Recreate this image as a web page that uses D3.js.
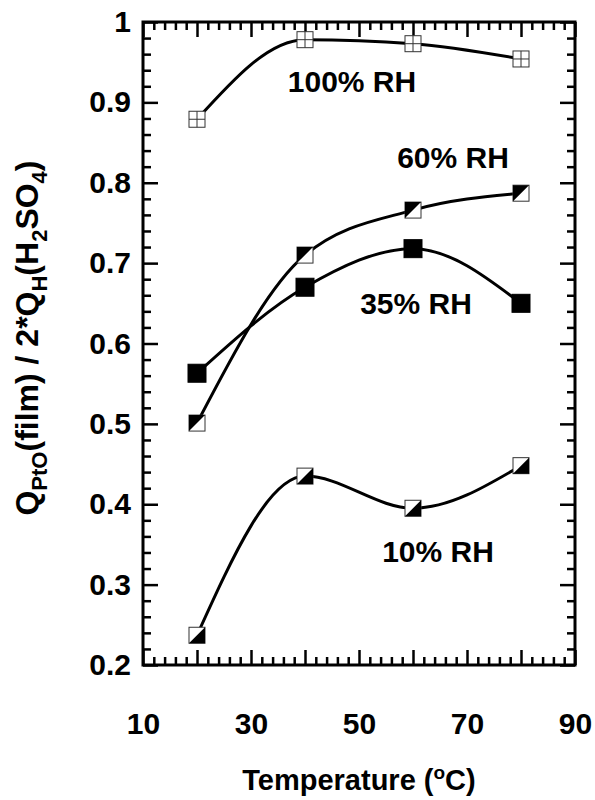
<!DOCTYPE html>
<html>
<head>
<meta charset="utf-8">
<script src="https://cdn.jsdelivr.net/npm/d3@7"></script>
<style>
	body { margin: 0; background: #fff; }
	text { font-family: "Liberation Sans", Arial, Helvetica, sans-serif; font-weight: bold; fill: #000; }
</style>
</head>
<body>
<div id="chart"></div>
<script>
// values
var temps = [20, 40, 60, 80];
var rh100 = [0.879, 0.978, 0.973, 0.954];
var rh60 = [0.501, 0.710, 0.766, 0.787];
var rh35 = [0.563, 0.670, 0.718, 0.650];
var rh10 = [0.237, 0.435, 0.395, 0.448];
var seriesNames = ["100% RH", "60% RH", "35% RH", "10% RH"];
var xTickLabels = [10, 30, 50, 70, 90];
var yTickLabels = [0.2, 0.3, 0.4, 0.5, 0.6, 0.7, 0.8, 0.9, 1];

var width = 595, height = 800;
var margin = {top: 22, right: 20, bottom: 135, left: 143};
var w = width - margin.left - margin.right,
	h = height - margin.top - margin.bottom;

var svg = d3.select("#chart")
	.append("svg")
		.attr("width", width)
		.attr("height", height)
	.append("g")
		.attr("transform", "translate(" + margin.left + "," + margin.top + ")");

var x = d3.scaleLinear().domain([10, 90]).range([0, w]);
var y = d3.scaleLinear().domain([0.2, 1]).range([h, 0]);

var xMajor = d3.range(10, 91, 10);
var xMinor = d3.range(10, 91, 2).filter(function(d) { return d % 10 !== 0; });
var yMajor = d3.range(2, 11, 1).map(function(d) { return d / 10; });
var yMinor = d3.range(10, 51, 1).filter(function(d) { return d % 5 !== 0; }).map(function(d) { return d / 50; });

function styleAxis(g) {
	g.select(".domain").remove();
	g.selectAll(".tick line").attr("stroke", "#000").attr("stroke-width", 2.5);
	g.selectAll(".tick text").style("font-size", "30px");
}

// bottom, with labels on every other major tick
svg.append("g")
	.attr("transform", "translate(0," + h + ")")
	.call(d3.axisBottom(x).tickValues(xMajor).tickSizeInner(-15).tickSizeOuter(0).tickPadding(48)
		.tickFormat(function(d) { return xTickLabels.indexOf(d) >= 0 ? d : ""; }))
	.call(styleAxis);
svg.append("g")
	.attr("transform", "translate(0," + h + ")")
	.call(d3.axisBottom(x).tickValues(xMinor).tickSizeInner(-8).tickSizeOuter(0).tickFormat(""))
	.call(styleAxis);
// top
svg.append("g")
	.call(d3.axisTop(x).tickValues(xMajor).tickSizeInner(-15).tickSizeOuter(0).tickFormat(""))
	.call(styleAxis);
svg.append("g")
	.call(d3.axisTop(x).tickValues(xMinor).tickSizeInner(-8).tickSizeOuter(0).tickFormat(""))
	.call(styleAxis);
// left
svg.append("g")
	.call(d3.axisLeft(y).tickValues(yMajor).tickSizeInner(-15).tickSizeOuter(0).tickPadding(12)
		.tickFormat(function(d, i) { return yTickLabels[i] === 1 ? "1" : yTickLabels[i].toFixed(1); }))
	.call(styleAxis);
svg.append("g")
	.call(d3.axisLeft(y).tickValues(yMinor).tickSizeInner(-8).tickSizeOuter(0).tickFormat(""))
	.call(styleAxis);
// right
svg.append("g")
	.attr("transform", "translate(" + w + ",0)")
	.call(d3.axisRight(y).tickValues(yMajor).tickSizeInner(-15).tickSizeOuter(0).tickFormat(""))
	.call(styleAxis);
svg.append("g")
	.attr("transform", "translate(" + w + ",0)")
	.call(d3.axisRight(y).tickValues(yMinor).tickSizeInner(-8).tickSizeOuter(0).tickFormat(""))
	.call(styleAxis);

// frame
svg.append("rect")
	.attr("width", w)
	.attr("height", h)
	.attr("fill", "none")
	.attr("stroke", "#000")
	.attr("stroke-width", 3);

// curves
var line = d3.line()
	.x(function(d) { return x(d[0]); })
	.y(function(d) { return y(d[1]); })
	.curve(d3.curveMonotoneX);

var series = [
	{name: seriesNames[0], values: rh100, marker: "grid", size: 16},
	{name: seriesNames[1], values: rh60, marker: "upper", size: 16},
	{name: seriesNames[2], values: rh35, marker: "filled", size: 18},
	{name: seriesNames[3], values: rh10, marker: "lower", size: 16}
];

series.forEach(function(s) {
	var pts = temps.map(function(t, i) { return [t, s.values[i]]; });
	svg.append("path")
		.datum(pts)
		.attr("d", line)
		.attr("fill", "none")
		.attr("stroke", "#000")
		.attr("stroke-width", 3);
});

// markers on top of the curves
series.forEach(function(s) {
	var pts = temps.map(function(t, i) { return [t, s.values[i]]; });
	var r = s.size / 2;
	var m = svg.selectAll(null)
		.data(pts)
		.enter()
		.append("g")
			.attr("transform", function(d) { return "translate(" + x(d[0]) + "," + y(d[1]) + ")"; });

	m.append("rect")
		.attr("x", -r).attr("y", -r)
		.attr("width", s.size).attr("height", s.size)
		.attr("fill", s.marker === "filled" ? "#000" : "#fff")
		.attr("stroke", s.marker === "filled" ? "#000" : "#333")
		.attr("stroke-width", 1);

	if (s.marker === "grid") {
		m.append("path")
			.attr("d", "M0," + (-r) + "V" + r + "M" + (-r) + ",0H" + r)
			.attr("stroke", "#333")
			.attr("stroke-width", 1);
	} else if (s.marker === "upper") {
		m.append("path")
			.attr("d", "M" + (-r) + "," + (-r) + "L" + r + "," + (-r) + "L" + (-r) + "," + r + "Z")
			.attr("fill", "#000");
	} else if (s.marker === "lower") {
		m.append("path")
			.attr("d", "M" + r + "," + (-r) + "L" + r + "," + r + "L" + (-r) + "," + r + "Z")
			.attr("fill", "#000");
	}
});

// series labels
var labelPos = [[209, 70], [310, 146], [273, 292], [295, 540]];
svg.selectAll(".rh-label")
	.data(seriesNames)
	.enter()
	.append("text")
		.attr("class", "rh-label")
		.attr("x", function(d, i) { return labelPos[i][0]; })
		.attr("y", function(d, i) { return labelPos[i][1]; })
		.attr("text-anchor", "middle")
		.style("font-size", "30px")
		.text(function(d) { return d; });

// x axis title
var xt = svg.append("text")
	.attr("x", w / 2)
	.attr("y", h + 125)
	.attr("text-anchor", "middle")
	.style("font-size", "29px");
xt.append("tspan").text("Temperature (");
xt.append("tspan").attr("dy", -11).style("font-size", "19px").text("o");
xt.append("tspan").attr("dy", 11).text("C)");

// y axis title
var yt = svg.append("text")
	.attr("transform", "translate(" + (38 - margin.left) + "," + (338 - margin.top) + ") rotate(-90)")
	.attr("text-anchor", "middle")
	.style("font-size", "32px");
yt.append("tspan").text("Q");
yt.append("tspan").attr("dy", 9).style("font-size", "22px").text("PtO");
yt.append("tspan").attr("dy", -9).text("(film) / 2*Q");
yt.append("tspan").attr("dy", 9).style("font-size", "22px").text("H");
yt.append("tspan").attr("dy", -9).text("(H");
yt.append("tspan").attr("dy", 9).style("font-size", "22px").text("2");
yt.append("tspan").attr("dy", -9).text("SO");
yt.append("tspan").attr("dy", 9).style("font-size", "22px").text("4");
yt.append("tspan").attr("dy", -9).text(")");
</script>
</body>
</html>
